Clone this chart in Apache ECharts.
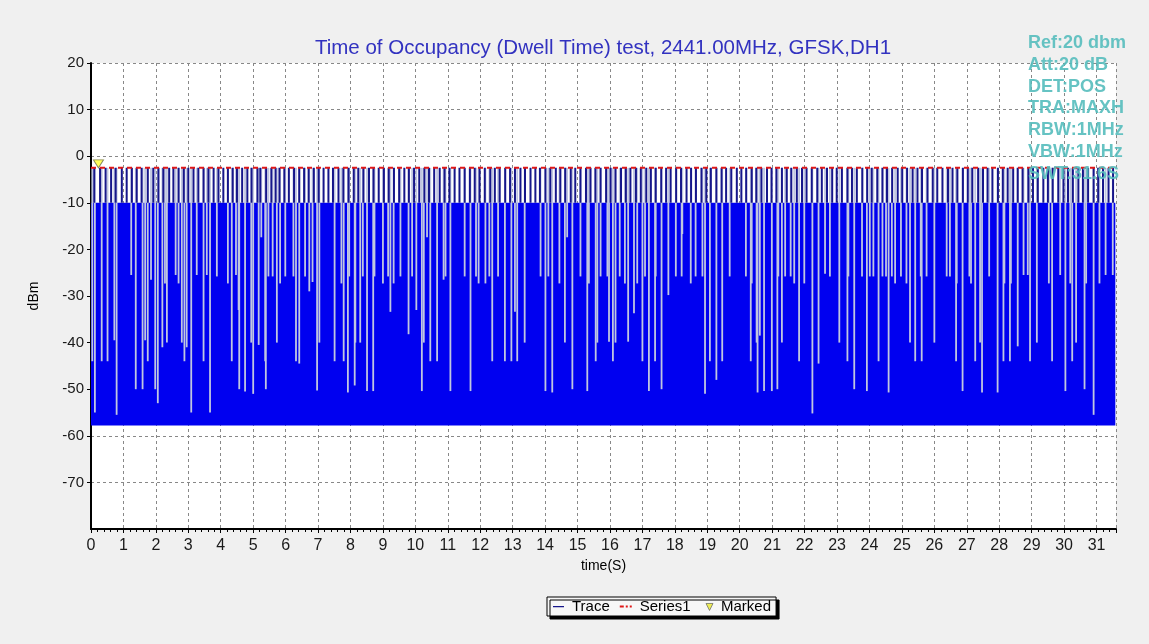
<!DOCTYPE html>
<html>
<head>
<meta charset="utf-8">
<script src="https://cdn.jsdelivr.net/npm/echarts@6/dist/echarts.min.js"></script>
<style>
html, body { margin: 0; padding: 0; background: #f0f0f0; }
#container { width: 1149px; height: 644px; }
</style>
</head>
<body>
<div id="container"></div>
<script>
// chart texts
var titleText = 'Time of Occupancy (Dwell Time) test, 2441.00MHz, GFSK,DH1';
var infoLines = ['Ref:20 dbm', 'Att:20 dB', 'DET:POS', 'TRA:MAXH', 'RBW:1MHz', 'VBW:1MHz', 'SWT:31.6S'];
var legendNames = ['Trace', 'Series1', 'Marked'];

// axes
var timeMin = 0, timeMax = 31.6;
var levelMin = -80, levelMax = 20;

// trace levels (dBm)
var refLevel = -2.5;     // Series1 line / pulse peaks
var bandTop = -10;       // top of the dense trace
var bandBottom = -57.8;  // noise floor
var bandEnd = 31.58;     // trace stops here (s)

// times (s) where the trace reaches the ref level
var pulseTimes = [
    0.10, 0.28, 0.45, 0.62, 0.76, 0.95, 1.10, 1.26, 1.41, 1.56, 1.75, 1.92, 2.08, 2.23, 2.41, 2.54, 2.70, 2.86, 3.00, 3.16,
    3.31, 3.47, 3.62, 3.78, 3.93, 4.08, 4.22, 4.37, 4.50, 4.66, 4.82, 4.95, 5.13, 5.22, 5.40, 5.56, 5.69, 5.81, 5.96, 6.10,
    6.26, 6.42, 6.57, 6.71, 6.87, 7.02, 7.17, 7.32, 7.46, 7.63, 7.78, 7.94, 8.10, 8.24, 8.40, 8.57, 8.71, 8.87, 9.03, 9.18,
    9.34, 9.50, 9.66, 9.80, 9.96, 10.12, 10.28, 10.42, 10.58, 10.75, 10.90, 11.05, 11.21, 11.36, 11.52, 11.68, 11.83, 11.98, 12.14, 12.31,
    12.45, 12.60, 12.77, 12.92, 13.07, 13.24, 13.38, 13.55, 13.70, 13.84, 14.01, 14.16, 14.33, 14.47, 14.62, 14.79, 14.93, 15.09, 15.26, 15.40,
    15.55, 15.71, 15.88, 16.02, 16.17, 16.34, 16.49, 16.63, 16.80, 16.95, 17.12, 17.26, 17.41, 17.58, 17.73, 17.87, 18.04, 18.19, 18.36, 18.50,
    18.65, 18.82, 18.97, 19.11, 19.28, 19.44, 19.58, 19.74, 19.91, 20.05, 20.20, 20.37, 20.51, 20.67, 20.84, 20.98, 21.13, 21.30, 21.45, 21.59,
    21.76, 21.92, 22.06, 22.22, 22.39, 22.53, 22.69, 22.85, 22.99, 23.15, 23.32, 23.46, 23.61, 23.78, 23.93, 24.07, 24.24, 24.40, 24.54, 24.70,
    24.87, 25.01, 25.16, 25.33, 25.48, 25.62, 25.79, 25.95, 26.09, 26.25, 26.42, 26.56, 26.71, 26.88, 27.03, 27.17, 27.35, 27.50, 27.64, 27.79,
    27.96, 28.11, 28.26, 28.43, 28.57, 28.72, 28.90, 29.04, 29.19, 29.36, 29.50, 29.65, 29.82, 29.98, 30.12, 30.27, 30.44, 30.58, 30.74, 30.91,
    31.05, 31.20, 31.37, 31.51
];

// [time (s), lowest level reached (dBm)] of the light gaps in the trace
var gaps = [
    [0.04, -44], [0.12, -55], [0.33, -44], [0.51, -44], [0.72, -39.5], [0.79, -55.5], [1.24, -25.5], [1.38, -50],
    [1.59, -50], [1.67, -39.5], [1.75, -44], [1.85, -26.5], [1.98, -50], [2.06, -53], [2.20, -41], [2.28, -27.3],
    [2.34, -40], [2.61, -25.5], [2.70, -27.3], [2.80, -40], [2.88, -44], [2.95, -41], [3.09, -55], [3.26, -25.5],
    [3.47, -44], [3.57, -25.5], [3.67, -55],
    [3.88, -25.8], [4.22, -27.3], [4.34, -44], [4.47, -25.5], [4.55, -33], [4.57, -50], [4.75, -50.5], [4.94, -40],
    [5.00, -51], [5.17, -40.5], [5.25, -17.4], [5.37, -44], [5.39, -50], [5.47, -25.8], [5.60, -25.8], [5.73, -40],
    [5.83, -27.3], [5.99, -25.8], [6.24, -25.8], [6.32, -44], [6.42, -44.5], [6.60, -25.8], [6.73, -29], [6.83, -27],
    [6.97, -50.3], [7.04, -40], [7.51, -44], [7.72, -27.3], [7.79, -44],
    [7.92, -50.7], [7.96, -25.8], [8.13, -49.2], [8.15, -40], [8.30, -40], [8.38, -25.8], [8.51, -50.4], [8.70, -50.4],
    [8.74, -25.8], [9.00, -27.3], [9.16, -25.8], [9.23, -33.4], [9.33, -27.3], [9.54, -25.8], [9.79, -38.2], [9.90, -25.8],
    [10.03, -33], [10.20, -50.4], [10.26, -40], [10.36, -17.4], [10.46, -44], [10.67, -44], [10.87, -26.5], [10.93, -25.8],
    [11.08, -50.4], [11.52, -25.8], [11.70, -50.4],
    [11.87, -25.8], [11.95, -27.3], [12.16, -27.3], [12.28, -25.8], [12.37, -44], [12.55, -25.8], [12.76, -44], [12.96, -44],
    [13.07, -33.4], [13.14, -44], [13.37, -40], [13.86, -25.8], [14.01, -50.4], [14.10, -25.8], [14.22, -50.7], [14.44, -27.3],
    [14.61, -40], [14.68, -17.4], [14.84, -50], [15.09, -25.8], [15.30, -50.4], [15.35, -27.3], [15.56, -44], [15.61, -40],
    [15.71, -25.8],
    [15.92, -25.8], [15.97, -39.8], [16.09, -44], [16.17, -40], [16.30, -25.8], [16.46, -27.3], [16.56, -39.8], [16.74, -33.7],
    [16.84, -27.3], [17.00, -44], [17.08, -25.8], [17.20, -50.4], [17.39, -44], [17.41, -25.8], [17.59, -50], [17.80, -29.8],
    [18.03, -25.8], [18.21, -25.8], [18.23, -16.7], [18.49, -27.3], [18.64, -25.8], [18.85, -25.8], [18.93, -51], [19.08, -44],
    [19.28, -48], [19.46, -44], [19.69, -25.8],
    [20.19, -25.8], [20.34, -44], [20.37, -27.3], [20.52, -40], [20.55, -50.7], [20.62, -38.5], [20.75, -50.4], [20.99, -50.4],
    [21.16, -50], [21.19, -25.8], [21.30, -40], [21.40, -25.8], [21.57, -25.8], [21.68, -27.3], [21.83, -44], [21.99, -27.3],
    [22.24, -55.2], [22.43, -44.5], [22.63, -25.2], [22.78, -25.8], [23.07, -40], [23.32, -44], [23.35, -25.8], [23.53, -50],
    [23.77, -25.8],
    [23.92, -50.4], [24.01, -25.8], [24.12, -25.8], [24.28, -44], [24.40, -25.8], [24.51, -25.8], [24.59, -50.7], [24.69, -25.8],
    [24.79, -27.3], [24.97, -25.8], [25.14, -27.3], [25.25, -40], [25.41, -44], [25.58, -25.8], [25.61, -44], [25.76, -25.8],
    [26.00, -40], [26.38, -25.8], [26.48, -25.8], [26.67, -44], [26.69, -27.3], [26.87, -50.4], [27.08, -25.8], [27.13, -27.3],
    [27.26, -44], [27.41, -40], [27.47, -50.7], [27.69, -25.8],
    [27.95, -50.7], [28.13, -44], [28.16, -27.3], [28.33, -44], [28.36, -27.3], [28.57, -40.8], [28.75, -25.5], [28.88, -25.5],
    [28.95, -44], [29.16, -40], [29.53, -27.3], [29.63, -44], [29.88, -25.5], [30.04, -50.4], [30.19, -27.3], [30.25, -44],
    [30.37, -40], [30.63, -50], [30.68, -27.3], [30.91, -55.5], [31.09, -27.3], [31.28, -25.5], [31.50, -25.5]
];

// marker position
var marked = [[0.23, -2.5]];

// colours
var traceBlue = '#0000f0';
var pulseBlue = '#16168a';
var gapColor = '#c0c6e0';
var refRed = '#e01818';
var infoColor = '#55bdbd';
var fontFamily = '"Liberation Sans", Arial, sans-serif';

var dom = document.getElementById('container');
var myChart = echarts.init(dom, null, { renderer: 'canvas' });

// pulses as short vertical segments, broken with '-' between them
var pulseData = [];
pulseTimes.forEach(function (t) {
    pulseData.push([t, bandTop], [t, refLevel], [t, '-']);
});

function renderBand(params, api) {
    var p1 = api.coord([api.value(0), api.value(2)]);
    var p2 = api.coord([api.value(1), api.value(3)]);
    return {
        type: 'rect',
        shape: { x: p1[0], y: p1[1], width: p2[0] - p1[0], height: p2[1] - p1[1] },
        style: { fill: traceBlue }
    };
}

function renderGap(params, api) {
    var top = api.coord([api.value(0), refLevel]);
    var bottom = api.coord([api.value(0), api.value(1)]);
    return {
        type: 'rect',
        shape: { x: top[0] - 0.9, y: top[1], width: 1.8, height: bottom[1] - top[1] },
        style: { fill: gapColor }
    };
}

var infoTexts = infoLines.map(function (s, i) {
    return {
        type: 'text',
        left: 1028,
        top: 34 + i * 21.8,
        z: 100,
        style: { text: s, fill: infoColor, font: 'bold 18px ' + fontFamily, opacity: 0.9 }
    };
});

// legend icons (fill paths; corner dots keep the box size)
var iconLine = 'path://M0,0h0.01v0.01h-0.01z M16,8h0.01v0.01h-0.01z M2,3.4h11v1.3h-11z';
var iconDash = 'path://M0,0h0.01v0.01h-0.01z M16,8h0.01v0.01h-0.01z M1,3h4v2h-4z M7,3h2v2h-2z M11,3h2v2h-2z';
var iconTri = 'path://M0,0h0.01v0.01h-0.01z M16,8h0.01v0.01h-0.01z M6,1h7l-3.5,7z';

var option = {
    backgroundColor: '#f0f0f0',
    animation: false,
    title: {
        text: titleText,
        left: 598,
        textAlign: 'center',
        top: 33,
        textStyle: { color: '#3232c0', fontSize: 20.5, fontWeight: 'normal', fontFamily: fontFamily }
    },
    legend: {
        left: 547,
        top: 597,
        itemWidth: 16,
        itemHeight: 8,
        itemGap: 9,
        padding: [2, 5, 2, 4],
        borderColor: '#000',
        borderWidth: 1,
        backgroundColor: '#f7f7f7',
        shadowColor: '#000',
        shadowOffsetX: 3,
        shadowOffsetY: 3,
        shadowBlur: 0,
        textStyle: { fontSize: 15, color: '#000', fontFamily: fontFamily },
        data: [
            { name: legendNames[0], icon: iconLine, itemStyle: { color: pulseBlue } },
            { name: legendNames[1], icon: iconDash, itemStyle: { color: refRed } },
            { name: legendNames[2], icon: iconTri, itemStyle: { color: '#e8e830', borderColor: '#555', borderWidth: 0.8 } }
        ]
    },
    graphic: infoTexts,
    grid: {
        left: 91,
        top: 63,
        right: 33,
        bottom: 115,
        show: true,
        backgroundColor: '#fff',
        borderWidth: 0
    },
    xAxis: {
        type: 'value',
        min: timeMin,
        max: timeMax,
        interval: 1,
        name: 'time(S)',
        nameLocation: 'middle',
        nameGap: 30,
        nameTextStyle: { fontSize: 14, color: '#000', fontFamily: fontFamily },
        axisLine: { onZero: false, lineStyle: { color: '#000', width: 2 } },
        axisTick: { length: 4, lineStyle: { color: '#000' } },
        minorTick: { show: true, splitNumber: 5, length: 3, lineStyle: { color: '#000' } },
        axisLabel: { showMaxLabel: false, fontSize: 16, color: '#1a1a1a', margin: 9, fontFamily: fontFamily },
        splitLine: { show: true, lineStyle: { color: '#888', type: [3, 3], width: 1 } }
    },
    yAxis: {
        type: 'value',
        min: levelMin,
        max: levelMax,
        interval: 10,
        name: 'dBm',
        nameLocation: 'middle',
        nameGap: 50,
        nameTextStyle: { fontSize: 14, color: '#000', fontFamily: fontFamily },
        axisLine: { show: true, onZero: false, lineStyle: { color: '#000', width: 2 } },
        axisTick: { show: true, length: 4, lineStyle: { color: '#000' } },
        axisLabel: { showMinLabel: false, fontSize: 15, color: '#1a1a1a', margin: 7, fontFamily: fontFamily },
        splitLine: { show: true, lineStyle: { color: '#888', type: [3, 3], width: 1 } }
    },
    series: [
        // the pulses (legend entry for Trace)
        {
            name: 'Trace',
            type: 'line',
            z: 5,
            showSymbol: false,
            symbol: 'none',
            connectNulls: false,
            itemStyle: { color: pulseBlue },
            lineStyle: { color: pulseBlue, width: 2 },
            data: pulseData
        },
        // the dense band of the trace
        {
            name: 'TraceBand',
            type: 'custom',
            z: 2,
            renderItem: renderBand,
            encode: { x: [0, 1], y: [2, 3] },
            data: [[timeMin, bandEnd, bandTop, bandBottom]]
        },
        // light gaps in the trace
        {
            name: 'TraceGaps',
            type: 'custom',
            z: 3,
            renderItem: renderGap,
            encode: { x: 0, y: 1 },
            data: gaps
        },
        {
            name: 'Series1',
            type: 'line',
            z: 6,
            symbol: 'none',
            itemStyle: { color: refRed },
            lineStyle: { color: refRed, width: 2, type: [5, 4] },
            data: [[timeMin, refLevel], [bandEnd, refLevel]]
        },
        {
            name: 'Marked',
            type: 'scatter',
            z: 7,
            symbol: 'triangle',
            symbolRotate: 180,
            symbolSize: [10, 8],
            symbolOffset: [0, -4],
            itemStyle: { color: '#ffff30', borderColor: '#6a6a40', borderWidth: 1 },
            data: marked
        }
    ]
};

if (option && typeof option === 'object') {
    myChart.setOption(option, true);
}
</script>
</body>
</html>
